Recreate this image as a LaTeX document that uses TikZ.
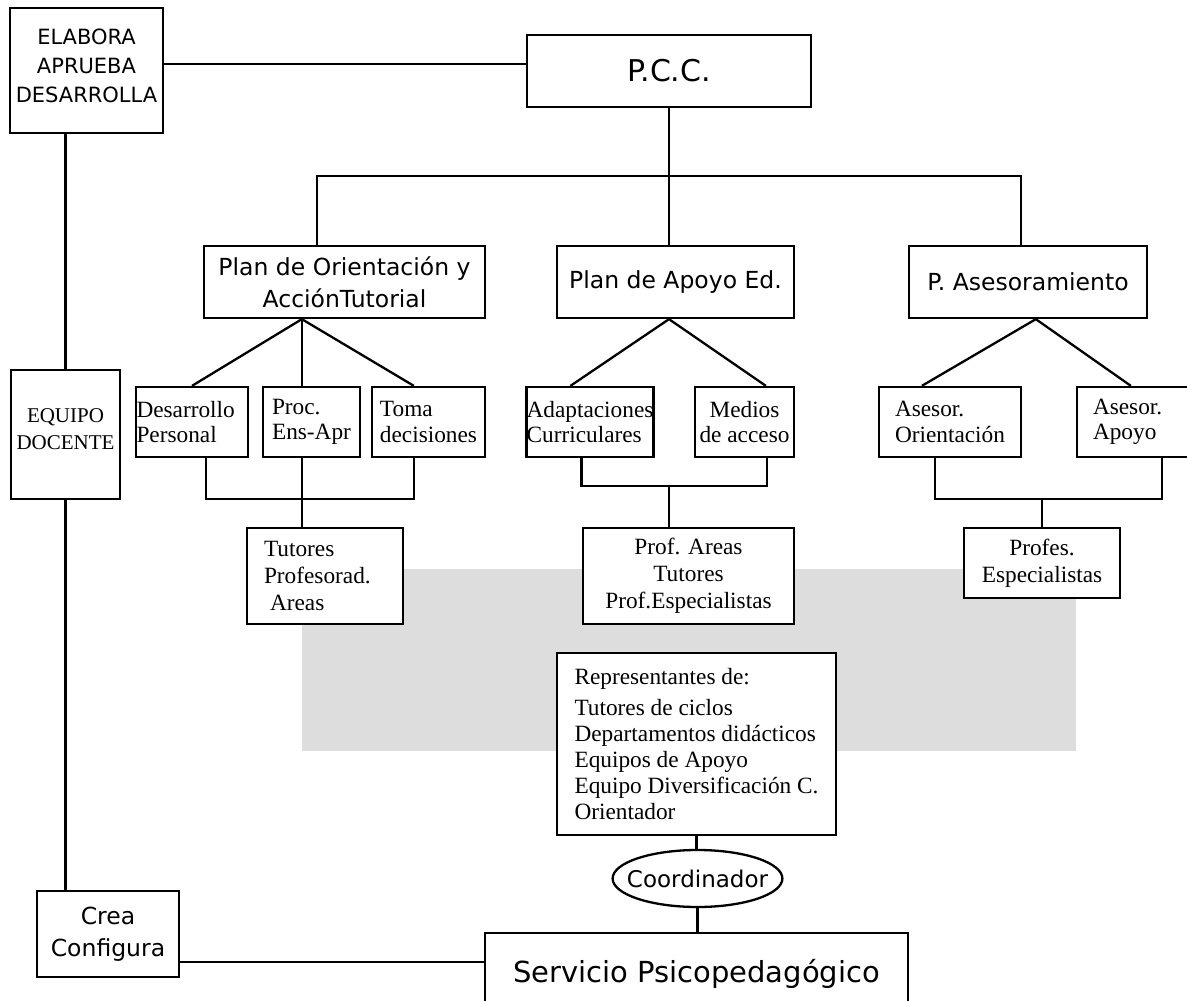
\documentclass[tikz,border=0pt]{standalone}
\usepackage{fontspec}
\setmainfont{Liberation Serif}
\setsansfont{DejaVu Sans}
\usetikzlibrary{shapes.geometric,calc}
\definecolor{panelgray}{RGB}{221,221,221}

\begin{document}
\begin{tikzpicture}[x=1pt, y=-1pt, line width=2.3pt,
    box/.style={draw, fill=white, inner sep=0pt},
    sbox/.style={box, align=center, font=\sffamily\fontsize{23.5}{32}\selectfont},
    plan/.style={sbox, minimum height=72pt},
    leaf/.style={box, minimum height=70pt, align=left, font=\fontsize{23.3}{25.5}\selectfont},
    group/.style={box, font=\fontsize{23.3}{27}\selectfont}]
    \useasboundingbox (0,0) rectangle (1187,1001);
    \clip (0,0) rectangle (1187,1001);
    \fill[panelgray] (302,569) rectangle (1076,751);

    \node[sbox, minimum width=153pt, minimum height=125pt, text depth=10pt, font=\sffamily\fontsize{21}{29}\selectfont] (elab) at (86.5,70.5) {ELABORA\\APRUEBA\\DESARROLLA};
    \node[sbox, minimum width=284pt, minimum height=72pt, font=\sffamily\fontsize{30}{35}\selectfont] (pcc) at (669,71) {P.C.C.};
    \node[plan, minimum width=281pt] (plor) at (344.5,282) {Plan de Orientación y\\AcciónTutorial};
    \node[plan, minimum width=237pt] (plap) at (675.5,282) {Plan de Apoyo Ed.};
    \node[plan, minimum width=238pt] (pase) at (1028,282) {P. Asesoramiento};

    \node[leaf, text width=111pt, inner xsep=0.5pt] (desa) at (192,422) {Desarrollo\\Personal};
    \node[leaf, minimum width=97pt] (proc) at (311.5,422) {Proc.\\Ens-Apr};
    \node[leaf, minimum width=113pt] (toma) at (428.5,422) {Toma\\decisiones};
    \node[leaf, minimum width=126pt] (adap) at (590,422) {Adaptaciones\\Curriculares};
    \node[leaf, minimum width=99pt, align=center] (medi) at (744.5,422) {Medios\\de acceso};
    \node[leaf, minimum width=142pt] (aori) at (950,422) {Asesor.\\Orientación};
    \node[leaf, text width=110pt, inner xsep=16pt] (aapo) at (1148,422) {Asesor.\\Apoyo};

    \node[group, text width=122pt, inner xsep=17pt, minimum height=96pt, align=left] (tuto) at (325,576) {Tutores\\Profesorad.\\\hspace*{6pt}Areas};
    \node[group, minimum width=211pt, minimum height=96pt, align=center] (prof) at (688.5,576) {Prof. Areas\\Tutores\\Prof.Especialistas};
    \node[group, minimum width=156pt, minimum height=70pt, align=center] (espe) at (1042,563) {Profes.\\Especialistas};
    \node[group, minimum width=109pt, minimum height=129pt, align=center, text depth=10pt, font=\fontsize{21}{27}\selectfont] (equi) at (65.5,434.5) {EQUIPO\\DOCENTE};
    \node[group, minimum width=279pt, minimum height=182pt, align=left, font=\fontsize{23.3}{26}\selectfont] (repr) at (696.5,744) {Representantes de:\\[5pt]Tutores de ciclos\\Departamentos didácticos\\Equipos de Apoyo\\Equipo Diversificación C.\\Orientador};
    \node[box, ellipse, minimum width=169pt, minimum height=57pt, inner xsep=-10.5pt, inner ysep=11pt, font=\sffamily\fontsize{23}{28}\selectfont] (coor) at (697.5,878.5) {Coordinador};
    \node[box, minimum width=423pt, minimum height=82pt, font=\sffamily\fontsize{29}{35}\selectfont] (serv) at (696.5,974) {Servicio Psicopedagógico};
    \node[sbox, minimum width=142pt, minimum height=86pt, font=\sffamily\fontsize{23.5}{32}\selectfont] (crea) at (108,934) {Crea\\Configura};

    \coordinate (busl) at (317,176);
    \coordinate (busr) at (1021,176);
    \coordinate (plorb) at ($(plor.south west)+(99,0)$);
    \coordinate (plapb) at (pcc.south |- plap.south);
    \coordinate (paseb) at ($(pase.south west)+(128,0)$);

    \draw ([yshift=6.5pt]elab.east) coordinate (e1) -- (e1 -| pcc.west);
    \draw (pcc.south) -- (pcc.south |- plap.north);
    \draw (plor.north -| busl) -- (busl) -- (busr) -- (pase.north -| busr);
    \draw (desa.north) -- (plorb) -- ($(toma.north west)+(43,0)$);
    \draw (plorb) -- (plorb |- proc.north);
    \draw ($(adap.north west)+(45,0)$) -- (plapb) -- ($(medi.north west)+(72,0)$);
    \draw ($(aori.north west)+(44,0)$) -- (paseb) -- ($(aapo.north west)+(55,0)$);
    \draw ($(desa.south west)+(71,0)$) -- ++(0,41) -| ($(toma.south west)+(43,0)$);
    \draw (plorb |- proc.south) -- (plorb |- tuto.north);
    \draw ($(adap.south west)+(56,0)$) -- ++(0,28) coordinate (br2) -| ($(medi.south west)+(73,0)$);
    \draw (br2 -| plapb) -- (plapb |- prof.north);
    \draw ($(aori.south west)+(57,0)$) -- ++(0,41) coordinate (br3) -| ($(aapo.south west)+(86,0)$);
    \draw (br3 -| espe.north) -- (espe.north);
    \draw (equi.north) -- (equi.north |- elab.south);
    \draw (equi.south) -- (equi.south |- crea.north);
    \draw ([yshift=-28pt]crea.east) coordinate (c1) -- (c1 -| serv.west);
    \draw (repr.south) -- (repr.south |- coor.north);
    \draw (coor.south) -- (coor.south |- serv.north);
  \end{tikzpicture}
\end{document}
